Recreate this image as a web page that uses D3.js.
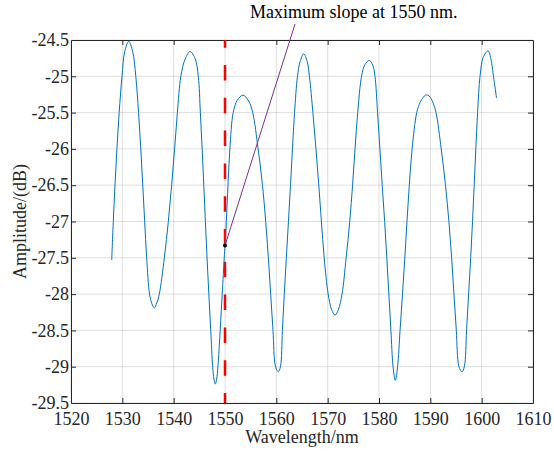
<!DOCTYPE html>
<html>
<head>
<meta charset="utf-8">
<script src="https://cdn.jsdelivr.net/npm/d3@7"></script>
<style>
  body { margin: 0; background: #fff; }
  text { font-family: "Liberation Serif", "Times New Roman", serif; fill: #262626; }
</style>
</head>
<body>
<svg id="chart" width="554" height="453"></svg>
<script>
// spectrum (nm, dB), one line per flank
var wavelength = [
  1527.93, 1528.24, 1528.57, 1528.94, 1529.38, 1529.94, 1530.46, 1531.24,
  1532.02, 1532.62, 1533.16, 1533.6, 1533.98, 1534.35, 1534.74, 1535.3, 1535.75, 1536.23,
  1536.72, 1537.2, 1538.18, 1538.96, 1539.61, 1540.18, 1540.72, 1541.4, 1542.25, 1543.2,
  1544.2, 1544.8, 1545.2, 1545.55, 1545.87, 1546.18, 1546.5, 1546.85, 1547.22, 1547.6, 1547.85, 1548.11,
  1548.37, 1548.62, 1549.06, 1549.46, 1549.85, 1550.0, 1550.26, 1550.58, 1550.95, 1551.6, 1552.4, 1553.5,
  1554.6, 1555.4, 1556.45, 1557.3, 1557.93, 1558.45, 1558.9, 1559.35, 1559.85, 1560.39,
  1560.8, 1561.18, 1561.55, 1561.95, 1562.36, 1562.76, 1563.14, 1563.55, 1564.12, 1564.62, 1565.33,
  1566.02, 1566.45, 1567.12, 1567.72, 1568.27, 1568.78, 1569.32, 1570.1, 1570.75, 1571.43,
  1572.1, 1572.8, 1573.6, 1574.3, 1574.85, 1575.33, 1575.85, 1576.6, 1577.25, 1578.11,
  1578.8, 1579.22, 1579.72, 1580.18, 1580.63, 1581.1, 1581.52, 1581.92, 1582.32, 1582.74, 1583.18,
  1583.62, 1584.1, 1584.58, 1585.03, 1585.45, 1585.9, 1586.45, 1587.35, 1588.0, 1588.6, 1589.05,
  1589.5, 1590.0, 1590.55, 1591.11, 1592.12, 1592.95, 1593.62, 1594.15, 1594.6, 1595.06, 1595.58, 1596.17,
  1596.62, 1597.06, 1597.46, 1597.86, 1598.22, 1598.54, 1598.86, 1599.2, 1599.68, 1600.3, 1601.24,
  1601.95, 1602.3, 1602.9
];
var amplitude = [
  -27.53, -27.0, -26.5, -26.0, -25.5, -25.0, -24.66, -24.52,
  -24.66, -25.0, -25.5, -26.0, -26.5, -27.0, -27.5, -28.0, -28.13, -28.19,
  -28.12, -28.0, -27.5, -27.0, -26.5, -26.0, -25.5, -25.0, -24.76, -24.66,
  -24.76, -25.0, -25.5, -26.0, -26.5, -27.0, -27.5, -28.0, -28.5, -29.0, -29.17, -29.24,
  -29.17, -29.0, -28.5, -28.0, -27.5, -27.33, -27.0, -26.5, -26.0, -25.5, -25.33, -25.26,
  -25.34, -25.5, -26.0, -26.5, -27.0, -27.5, -28.0, -28.5, -29.0, -29.07,
  -29.0, -28.5, -28.0, -27.5, -27.0, -26.5, -26.0, -25.5, -25.0, -24.8, -24.69,
  -24.8, -25.0, -25.5, -26.0, -26.5, -27.0, -27.5, -28.0, -28.21, -28.29,
  -28.21, -28.0, -27.5, -27.0, -26.5, -26.0, -25.5, -25.0, -24.84, -24.78,
  -24.85, -25.0, -25.5, -26.0, -26.5, -27.0, -27.5, -28.0, -28.5, -29.0, -29.19,
  -29.0, -28.5, -28.0, -27.5, -27.0, -26.5, -26.0, -25.5, -25.36, -25.29, -25.26,
  -25.26, -25.29, -25.37, -25.5, -26.0, -26.5, -27.0, -27.5, -28.0, -28.5, -29.0, -29.07,
  -29.0, -28.5, -28.0, -27.5, -27.0, -26.5, -26.0, -25.5, -25.0, -24.74, -24.65,
  -24.82, -25.0, -25.3
];

var xTicks = [1520, 1530, 1540, 1550, 1560, 1570, 1580, 1590, 1600, 1610];
var yTicks = [-29.5, -29, -28.5, -28, -27.5, -27, -26.5, -26, -25.5, -25, -24.5];

var markWavelength = 1550;
var markAmplitude = -27.33;
var noteEnd = [1563.64, -24.28];   // where the pointer line ends, above the box
var noteText = 'Maximum slope at 1550 nm.';

var margin = {top: 40, right: 21, bottom: 50, left: 71};
var W = 554, H = 453;
var w = W - margin.left - margin.right,
    h = H - margin.top - margin.bottom;

var svg = d3.select('#chart');
var g = svg.append('g').attr('transform', 'translate(' + margin.left + ',' + margin.top + ')');

var x = d3.scaleLinear().domain([1520, 1610]).range([0, w]);
var y = d3.scaleLinear().domain([-29.5, -24.5]).range([h, 0]);

// grid
g.append('g').selectAll('line').data(xTicks).enter().append('line')
    .attr('x1', function(d) { return x(d); }).attr('x2', function(d) { return x(d); })
    .attr('y1', 0).attr('y2', h)
    .attr('stroke', '#262626').attr('stroke-opacity', 0.15);
g.append('g').selectAll('line').data(yTicks).enter().append('line')
    .attr('y1', function(d) { return y(d); }).attr('y2', function(d) { return y(d); })
    .attr('x1', 0).attr('x2', w)
    .attr('stroke', '#262626').attr('stroke-opacity', 0.15);

// axes, ticks inside on all four sides
var axB = g.append('g').attr('transform', 'translate(0,' + h + ')')
    .call(d3.axisBottom(x).tickValues(xTicks).tickSizeInner(-5).tickSizeOuter(0).tickPadding(9).tickFormat(d3.format('d')));
var axT = g.append('g')
    .call(d3.axisTop(x).tickValues(xTicks).tickSizeInner(-5).tickSizeOuter(0).tickFormat(''));
var axL = g.append('g')
    .call(d3.axisLeft(y).tickValues(yTicks).tickSizeInner(-5).tickSizeOuter(0).tickPadding(2).tickFormat(String));
var axR = g.append('g').attr('transform', 'translate(' + w + ',0)')
    .call(d3.axisRight(y).tickValues(yTicks).tickSizeInner(-5).tickSizeOuter(0).tickFormat(''));

[axB, axT, axL, axR].forEach(function(a) {
    a.select('.domain').attr('stroke', '#262626');
    a.selectAll('.tick line').attr('stroke', '#262626');
    a.selectAll('.tick text').attr('fill', '#262626')
        .style('font-family', '"Liberation Serif", serif').style('font-size', '18px');
});
// drop the end ticks that sit on the box corners
axB.selectAll('.tick line').filter(function(d) { return d === 1520 || d === 1610; }).remove();
axT.selectAll('.tick line').filter(function(d) { return d === 1520 || d === 1610; }).remove();
axL.selectAll('.tick line').filter(function(d) { return d === -29.5 || d === -24.5; }).remove();
axR.selectAll('.tick line').filter(function(d) { return d === -29.5 || d === -24.5; }).remove();

// red marker at 1550 nm
g.append('line')
    .attr('x1', x(markWavelength)).attr('x2', x(markWavelength))
    .attr('y1', 0).attr('y2', h)
    .attr('stroke', '#ff0000').attr('stroke-width', 2.5)
    .attr('stroke-dasharray', '15.5,17.3').attr('stroke-dashoffset', 7.8);

// spectrum
var pts = wavelength.map(function(d, i) { return [d, amplitude[i]]; });
var line = d3.line()
    .x(function(d) { return x(d[0]); })
    .y(function(d) { return y(d[1]); })
    .curve(d3.curveCatmullRom.alpha(0.5));
g.append('path').datum(pts)
    .attr('d', line)
    .attr('fill', 'none')
    .attr('stroke', '#0072bd')
    .attr('stroke-width', 1);

// annotation
g.append('line')
    .attr('x1', x(markWavelength)).attr('y1', y(markAmplitude))
    .attr('x2', x(noteEnd[0])).attr('y2', y(noteEnd[1]))
    .attr('stroke', '#7e2f8e').attr('stroke-width', 1);
g.append('circle')
    .attr('cx', x(markWavelength)).attr('cy', y(markAmplitude))
    .attr('r', 2).attr('fill', '#000');
g.append('text')
    .attr('x', x(noteEnd[0]) - 45).attr('y', y(noteEnd[1]) - 6)
    .style('font-size', '18px').style('fill', '#000')
    .text(noteText);

// axis titles
svg.append('text')
    .attr('x', margin.left + w / 2).attr('y', 443)
    .attr('text-anchor', 'middle').style('font-size', '18px')
    .text('Wavelength/nm');
svg.append('text')
    .attr('transform', 'translate(26,' + (margin.top + h / 2) + ') rotate(-90)')
    .attr('text-anchor', 'middle').style('font-size', '18px')
    .text('Amplitude/(dB)');
</script>
</body>
</html>
